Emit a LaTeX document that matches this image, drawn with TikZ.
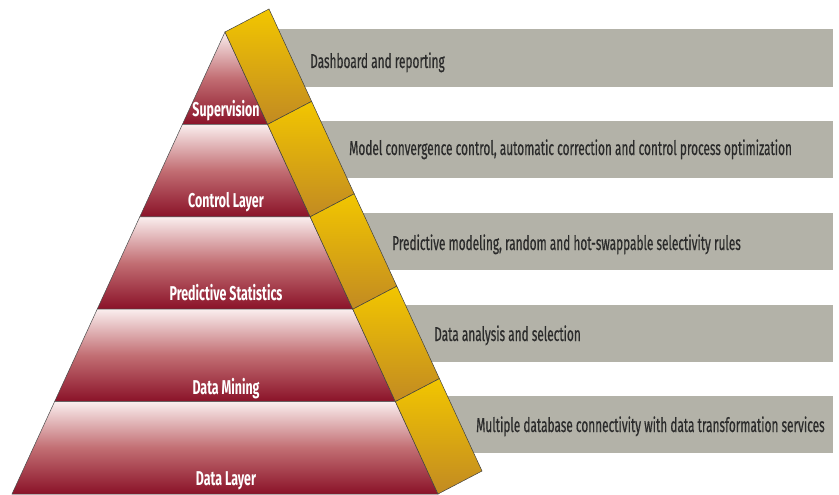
\documentclass[tikz,border=0pt]{standalone}
\usepackage{fontspec}
\setmainfont{Fira Sans}[FakeStretch=0.62]
\newfontfamily\barfont{Fira Sans}[FakeStretch=0.592, FakeBold=0.5]
\definecolor{barGray}{HTML}{B3B2A8}
\definecolor{barText}{HTML}{2B2B2B}
\definecolor{redPale}{HTML}{FAEEEE}
\definecolor{redMid}{HTML}{C26E73}
\definecolor{redDark}{HTML}{8A1228}
\definecolor{goldLight}{HTML}{F2C600}
\definecolor{goldDark}{HTML}{C28A22}
\tikzset{
  layer/.style={draw=black!70, line width=0.5pt, top color=redPale, bottom color=redDark, middle color=redMid},
  seg/.style={draw=black!75, line width=0.5pt, top color=goldLight, bottom color=goldDark},
  bar/.style={fill=barGray, draw=none},
  bartext/.style={anchor=base west, text=barText, font=\barfont\fontsize{20}{22}\selectfont, inner sep=0pt},
  laytext/.style={anchor=base, text=white, font=\bfseries\fontsize{20}{22}\selectfont, inner sep=0pt}
}
\begin{document}
\begin{tikzpicture}[x=1pt,y=-1pt]
\useasboundingbox (0,0) rectangle (839,495);
% pyramid points
\coordinate (A) at (225,32);
\coordinate (L1) at (182.4,124.4); \coordinate (R1) at (267.6,124.4);
\coordinate (L2) at (139.8,216.8); \coordinate (R2) at (310.2,216.8);
\coordinate (L3) at (97.2,309.2);  \coordinate (R3) at (352.8,309.2);
\coordinate (L4) at (54.6,401.6);  \coordinate (R4) at (395.4,401.6);
\coordinate (L5) at (12,494);      \coordinate (R5) at (438,494);
% band outer points
\coordinate (O0) at (269,9);
\coordinate (O1) at (311.6,101.4);
\coordinate (O2) at (354.2,193.8);
\coordinate (O3) at (396.8,286.2);
\coordinate (O4) at (439.4,378.6);
\coordinate (O5) at (482,471);
% gray bars
\fill[bar] (236,29) rectangle (833,87);
\fill[bar] (276,121) rectangle (833,178);
\fill[bar] (318,213) rectangle (833,270);
\fill[bar] (360,305) rectangle (833,362);
\fill[bar] (402,396) rectangle (833,453);
% pyramid layers
\shade[layer] (A) -- (R1) -- (L1) -- cycle;
\shade[layer] (L1) -- (R1) -- (R2) -- (L2) -- cycle;
\shade[layer] (L2) -- (R2) -- (R3) -- (L3) -- cycle;
\shade[layer] (L3) -- (R3) -- (R4) -- (L4) -- cycle;
\shade[layer] (L4) -- (R4) -- (R5) -- (L5) -- cycle;
% band segments
\shade[seg] (A) -- (O0) -- (O1) -- (R1) -- cycle;
\shade[seg] (R1) -- (O1) -- (O2) -- (R2) -- cycle;
\shade[seg] (R2) -- (O2) -- (O3) -- (R3) -- cycle;
\shade[seg] (R3) -- (O3) -- (O4) -- (R4) -- cycle;
\shade[seg] (R4) -- (O4) -- (O5) -- (R5) -- cycle;
% layer labels
\node[laytext] (lsup) at (226,117) {Supervision};
\node[laytext] (lctl) at (226,207) {Control Layer};
\node[laytext] (lpre) at (226,300) {Predictive Statistics};
\node[laytext] (lmin) at (226,394) {Data Mining};
\node[laytext] (ldat) at (226,485) {Data Layer};
% bar texts
\node[bartext] (t1) at (310,68) {Dashboard and reporting};
\node[bartext] (t2) at (349,155) {Model convergence control, automatic correction and control process optimization};
\node[bartext] (t3) at (392,250) {Predictive modeling, random and hot-swappable selectivity rules};
\node[bartext] (t4) at (434,341) {Data analysis and selection};
\node[bartext] (t5) at (476,432) {Multiple database connectivity with data transformation services};
\end{tikzpicture}
\end{document}
